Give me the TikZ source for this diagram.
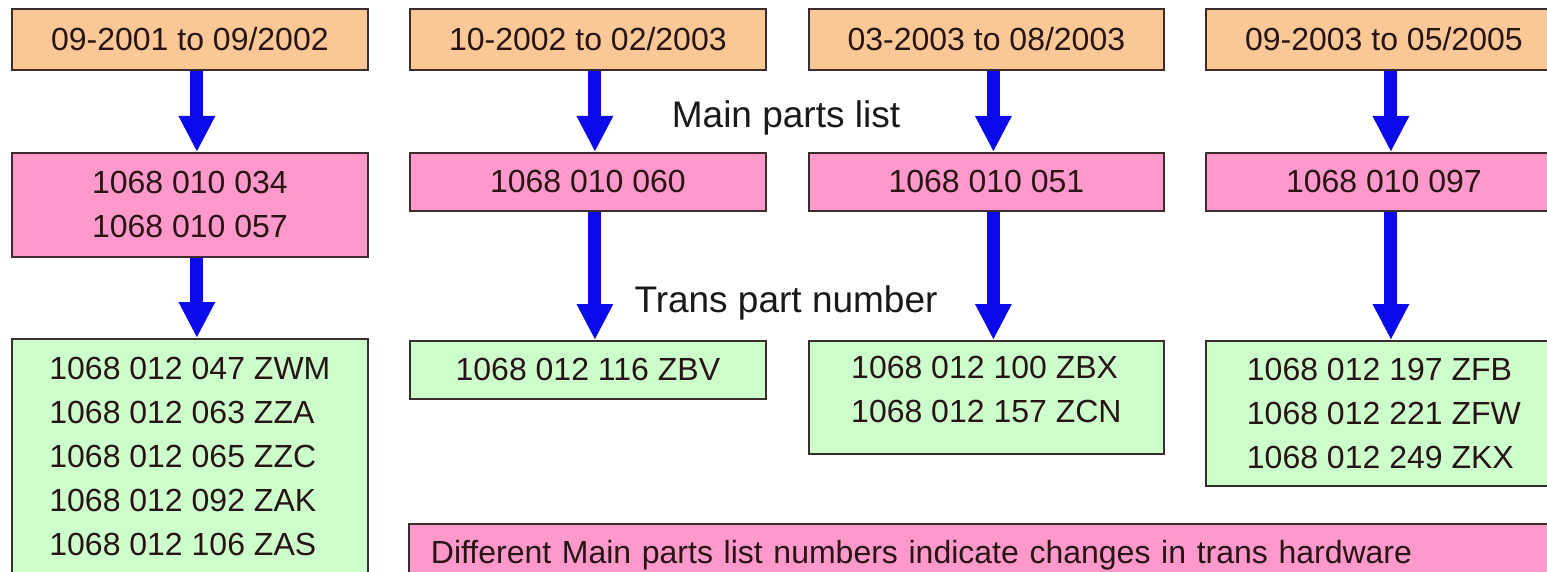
\documentclass[tikz,border=0pt]{standalone}
\usepackage{fontspec}
\setmainfont{Liberation Sans}
\usetikzlibrary{arrows.meta}
\definecolor{orangefill}{RGB}{250,200,150}
\definecolor{pinkfill}{RGB}{255,153,204}
\definecolor{greenfill}{RGB}{204,255,204}
\definecolor{edgecol}{RGB}{60,45,45}
\definecolor{txtcol}{RGB}{40,20,20}
\definecolor{labelcol}{RGB}{25,25,25}
\definecolor{arrowblue}{RGB}{10,10,235}
\begin{document}
\begin{tikzpicture}[x=1pt,y=-1pt,
  box/.style={draw=edgecol, line width=1.8pt, inner sep=0pt, text=txtcol,
    font=\fontsize{32}{44}\selectfont, anchor=north west, align=center},
  datebox/.style={box, fill=orangefill, minimum height=61pt},
  mainbox/.style={box, fill=pinkfill},
  transbox/.style={box, fill=greenfill, align=left},
  lbl/.style={text=labelcol, font=\fontsize{37}{44}\selectfont, anchor=base, inner sep=0pt},
  bigarrow/.style={draw=arrowblue, line width=13pt,
    -{Triangle[width=34pt,length=36pt,fill=arrowblue]}}
]
\useasboundingbox (0,0) rectangle (1547,572);
\clip (0,0) rectangle (1547,572);
\fill[white] (0,0) rectangle (1547,572);

% date boxes
\node[datebox, minimum width=356pt] (o1) at (11,8) {09-2001 to 09/2002};
\node[datebox, minimum width=356pt] (o2) at (409,8) {10-2002 to 02/2003};
\node[datebox, minimum width=355pt] (o3) at (808,8) {03-2003 to 08/2003};
\node[datebox, minimum width=356pt] (o4) at (1205,8) {09-2003 to 05/2005};

% main parts list boxes
\node[mainbox, minimum width=356pt, minimum height=104pt] (p1) at (11,152) {1068 010 034\\1068 010 057};
\node[mainbox, minimum width=356pt, minimum height=58pt] (p2) at (409,152) {1068 010 060};
\node[mainbox, minimum width=355pt, minimum height=58pt] (p3) at (808,152) {1068 010 051};
\node[mainbox, minimum width=356pt, minimum height=58pt] (p4) at (1205,152) {1068 010 097};

% trans part number boxes
\node[transbox, minimum width=356pt, minimum height=236pt] (g1) at (11,338)
  {1068 012 047 ZWM\\1068 012 063 ZZA\\1068 012 065 ZZC\\1068 012 092 ZAK\\1068 012 106 ZAS};
\node[transbox, minimum width=356pt, minimum height=58pt] (g2) at (409,340) {1068 012 116 ZBV};
\node[transbox, minimum width=355pt, minimum height=113pt] (g3) at (808,340)
  {\raisebox{0pt}[\height][\dimexpr\depth+12pt\relax]{\begin{tabular}{@{}l@{}}1068 012 100 ZBX\\1068 012 157 ZCN\end{tabular}}};
\node[transbox, minimum width=356pt, minimum height=145pt] (g4) at (1205,340)
  {1068 012 197 ZFB\\1068 012 221 ZFW\\1068 012 249 ZKX};

% note box
\node[box, fill=pinkfill, align=left, text width=1178pt, inner xsep=22pt,
  minimum height=63pt] (note) at (408,523)
  {Different Main parts list numbers indicate changes in trans hardware};

% labels
\node[lbl] (lmain) at (786,128) {Main parts list};
\node[lbl] (ltrans) at (786,312) {Trans part number};

% arrows
\foreach \a/\b in {o1/p1, p1/g1, o2/p2, p2/g2, o3/p3, p3/g3, o4/p4, p4/g4}
  \draw[bigarrow] ([xshift=7pt]\a.south) -- ([xshift=7pt]\b.north);
\end{tikzpicture}
\end{document}
